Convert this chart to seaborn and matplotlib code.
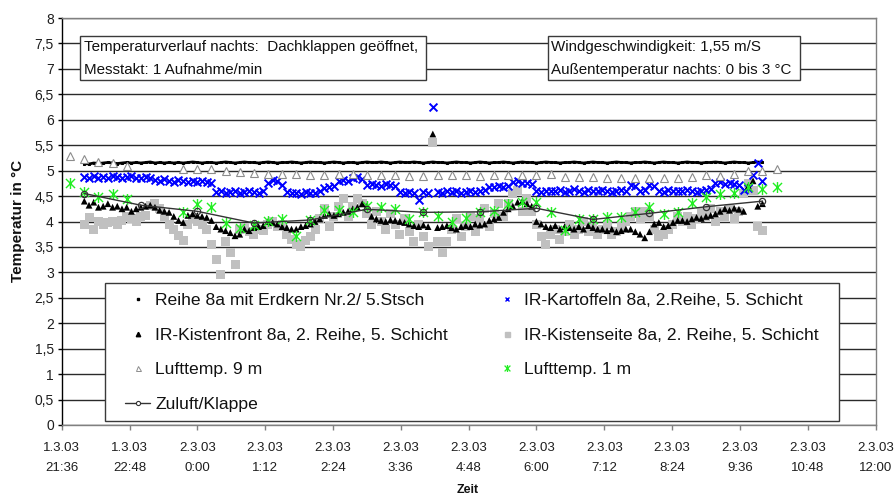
import numpy as np
import pandas as pd
import matplotlib
matplotlib.use("Agg")
import matplotlib.pyplot as plt
import seaborn as sns
from matplotlib.path import Path
from matplotlib.lines import Line2D
from matplotlib.patches import Rectangle

sns.set_theme(style="white")
plt.rcParams["font.family"] = ["Liberation Sans", "DejaVu Sans"]

# ---------------------------------------------------------------------------
# Logger series, 5-min steps from 1.3.03 22:00 to 2.3.03 10:00
dense_start_h = 22.0
dense_step_min = 5

reihe_8a = [
    5.14, 5.13, 5.15, 5.14, 5.15, 5.16, 5.15, 5.14, 5.15, 5.16,
    5.15, 5.16, 5.15, 5.16, 5.17, 5.15, 5.16, 5.15, 5.16, 5.15,
    5.16, 5.15, 5.16, 5.17, 5.16, 5.15, 5.16, 5.16, 5.15, 5.16,
    5.17, 5.16, 5.15, 5.16, 5.17, 5.16, 5.16, 5.15, 5.16, 5.17,
    5.16, 5.15, 5.16, 5.16, 5.17, 5.16, 5.15, 5.16, 5.17, 5.16,
    5.16, 5.15, 5.16, 5.17, 5.16, 5.15, 5.16, 5.16, 5.15, 5.16,
    5.17, 5.16, 5.16, 5.17, 5.16, 5.15, 5.16, 5.17, 5.16, 5.16,
    5.17, 5.16, 5.15, 5.16, 5.17, 5.16, 5.16, 5.15, 5.16, 5.17,
    5.16, 5.16, 5.15, 5.16, 5.17, 5.16, 5.15, 5.16, 5.16, 5.17,
    5.16, 5.15, 5.16, 5.17, 5.16, 5.16, 5.15, 5.16, 5.17, 5.16,
    5.16, 5.15, 5.16, 5.16, 5.17, 5.16, 5.15, 5.16, 5.17, 5.16,
    5.16, 5.15, 5.16, 5.17, 5.16, 5.16, 5.15, 5.16, 5.16, 5.17,
    5.16, 5.15, 5.16, 5.17, 5.16, 5.16, 5.15, 5.16, 5.17, 5.16,
    5.16, 5.15, 5.16, 5.16, 5.17, 5.16, 5.15, 5.16, 5.17, 5.16,
    5.16, 5.15, 5.16, 5.17, 5.16,
]

ir_kartoffeln = [
    4.88, 4.85, 4.90, 4.86, 4.88, 4.85, 4.90, 4.87, 4.85, 4.88,
    4.90, 4.86, 4.85, 4.88, 4.86, 4.82, 4.80, 4.83, 4.80, 4.78,
    4.82, 4.80, 4.78, 4.80, 4.77, 4.80, 4.78, 4.76, 4.58, 4.60,
    4.57, 4.58, 4.60, 4.57, 4.58, 4.60, 4.58, 4.57, 4.60, 4.75,
    4.82, 4.80, 4.72, 4.58, 4.56, 4.57, 4.55, 4.58, 4.56, 4.57,
    4.60, 4.66, 4.68, 4.70, 4.80, 4.82, 4.80, 4.85, 4.88, 4.83,
    4.72, 4.74, 4.72, 4.70, 4.73, 4.72, 4.70, 4.58, 4.57, 4.58,
    4.56, 4.42, 4.58, 4.57, 6.25, 4.58, 4.57, 4.59, 4.58, 4.60,
    4.57, 4.58, 4.59, 4.58, 4.60, 4.62, 4.68, 4.67, 4.70, 4.68,
    4.70, 4.78, 4.80, 4.76, 4.75, 4.74, 4.60, 4.58, 4.60, 4.59,
    4.60, 4.62, 4.58, 4.60, 4.63, 4.60, 4.58, 4.62, 4.60, 4.59,
    4.62, 4.60, 4.58, 4.60, 4.62, 4.60, 4.72, 4.70, 4.60, 4.62,
    4.72, 4.70, 4.60, 4.58, 4.62, 4.60, 4.59, 4.60, 4.62, 4.60,
    4.58, 4.60, 4.62, 4.63, 4.75, 4.77, 4.74, 4.76, 4.73, 4.72,
    4.62, 4.65, 4.92, 5.15, 4.80,
]

ir_kistenfront = [
    4.40, 4.32, 4.38, 4.28, 4.30, 4.35, 4.28, 4.30, 4.25, 4.28,
    4.20, 4.25, 4.28, 4.30, 4.32, 4.28, 4.22, 4.20, 4.18, 4.10,
    4.02, 3.98, 4.12, 4.15, 4.12, 4.10, 4.08, 4.02, 3.90, 3.85,
    3.82, 3.78, 3.72, 3.75, 3.85, 3.82, 3.88, 3.90, 3.92, 4.00,
    3.98, 3.95, 3.90, 3.88, 3.85, 3.85, 3.90, 3.92, 3.95, 4.00,
    4.05, 4.12, 4.15, 4.12, 4.15, 4.18, 4.20, 4.25, 4.28, 4.35,
    4.30, 4.10, 4.05, 4.02, 4.00, 4.03, 4.02, 4.00, 3.98, 3.95,
    3.92, 3.90, 3.93, 3.90, 5.72, 3.88, 3.90, 3.92, 3.88, 3.85,
    3.90, 3.92, 3.90, 3.95, 3.93, 3.95, 4.02, 4.05, 4.08, 4.18,
    4.25, 4.30, 4.38, 4.40, 4.35, 4.30, 4.00, 3.95, 3.90, 3.88,
    3.92, 3.85, 3.90, 3.88, 3.85, 3.90, 3.85, 3.92, 3.88, 3.85,
    3.85, 3.82, 3.85, 3.80, 3.82, 3.85, 3.85, 3.80, 3.75, 3.68,
    3.80, 3.95, 3.98, 3.90, 3.92, 3.98, 4.02, 4.02, 4.00, 4.05,
    4.08, 4.06, 4.10, 4.12, 4.15, 4.20, 4.25, 4.22, 4.26, 4.24,
    4.20, 4.70, 4.80, 4.30, 4.35,
]

ir_kistenseite = [
    3.95, 4.08, 3.85, 4.00, 3.95, 3.98, 4.00, 3.95, 4.02, 4.10,
    4.05, 4.00, 4.10, 4.12, 4.32, 4.35, 4.25, 4.10, 3.95, 3.85,
    3.72, 3.62, 3.95, 4.05, 4.00, 3.95, 3.85, 3.55, 3.25, 2.95,
    3.60, 3.40, 3.15, 3.85, 3.88, 3.80, 3.75, 3.85, 3.82, 3.95,
    4.00, 3.90, 3.95, 3.75, 3.65, 3.55, 3.50, 3.62, 3.70, 3.85,
    4.05, 4.25, 3.90, 4.10, 4.30, 4.45, 4.10, 4.30, 4.45, 4.35,
    4.15, 3.95, 4.20, 4.00, 3.85, 4.15, 3.95, 3.75, 4.05, 3.80,
    3.60, 3.95, 3.70, 3.50, 5.55, 3.60, 3.40, 3.60, 3.85, 4.05,
    3.70, 3.90, 4.10, 3.80, 4.05, 4.25, 3.90, 4.15, 4.35, 4.10,
    4.35, 4.55, 4.60, 4.20, 4.45, 4.20, 3.95, 3.70, 3.55, 3.75,
    3.85, 3.65, 3.80, 3.95, 3.75, 3.85, 4.00, 3.80, 3.90, 3.75,
    3.85, 3.95, 3.75, 3.80, 3.90, 4.00, 4.10, 4.20, 4.05, 4.20,
    4.10, 3.85, 3.70, 3.75, 3.85, 3.95, 4.10, 4.00, 4.10, 3.95,
    4.05, 4.20, 4.10, 4.25, 4.00, 4.20, 4.10, 4.25, 4.05, 4.20,
    4.55, 4.75, 4.60, 3.90, 3.82,
]

# Air temperature, 15-min steps from 1.3.03 21:45 to 2.3.03 10:15
air_start_h = 21.75
air_step_min = 15

lufttemp_9m = [
    5.28, 5.22, 5.17, 5.15, 5.09, np.nan, np.nan, np.nan, 5.03, 5.03,
    5.03, 5.00, 4.97, 4.95, 4.93, 4.93, 4.93, 4.91, 4.91, 4.93,
    4.93, 4.92, 4.92, 4.91, 4.90, 4.90, 4.91, 4.91, 4.91, 4.90,
    4.91, 4.92, 4.91, 4.92, 4.93, 4.88, 4.88, 4.88, 4.85, 4.85,
    4.85, 4.85, 4.85, 4.86, 4.88, 4.92, 4.90, 4.93, 5.00, 5.00,
    5.03,
]

lufttemp_1m = [
    4.75, 4.58, 4.49, 4.55, 4.44, np.nan, np.nan, np.nan, 4.19, 4.34,
    4.29, 3.97, 3.88, 3.93, 4.01, 4.05, 3.72, 4.02, 4.22, 4.22,
    4.19, 4.31, 4.29, 4.25, 4.05, 4.19, 4.11, 4.00, 4.07, 4.19,
    4.21, 4.35, 4.39, 4.38, 4.18, 3.84, 4.05, 4.05, 4.08, 4.09,
    4.19, 4.29, 4.14, 4.18, 4.37, 4.49, 4.55, 4.57, 4.68, 4.64,
    4.67,
]

# Supply air at the roof flap, hourly from 22:00 to 10:00
zuluft_start_h = 22.0
zuluft_klappe = [4.55, 4.32, 4.20, 3.97, 4.03, 4.24, 4.18, 4.19, 4.26, 4.04,
                 4.16, 4.29, 4.40]

series_labels = [
    "Reihe 8a mit Erdkern Nr.2/ 5.Stsch",
    "IR-Kartoffeln 8a, 2.Reihe, 5. Schicht",
    "IR-Kistenfront 8a, 2. Reihe, 5. Schicht",
    "IR-Kistenseite 8a, 2. Reihe, 5. Schicht",
    "Lufttemp. 9 m",
    "Lufttemp. 1 m",
    "Zuluft/Klappe",
]

x_tick_labels = [
    "1.3.03\n21:36", "1.3.03\n22:48", "2.3.03\n0:00", "2.3.03\n1:12",
    "2.3.03\n2:24", "2.3.03\n3:36", "2.3.03\n4:48", "2.3.03\n6:00",
    "2.3.03\n7:12", "2.3.03\n8:24", "2.3.03\n9:36", "2.3.03\n10:48",
    "2.3.03\n12:00",
]
y_tick_labels = ["0", "0,5", "1", "1,5", "2", "2,5", "3", "3,5", "4",
                 "4,5", "5", "5,5", "6", "6,5", "7", "7,5", "8"]

note_left = ["Temperaturverlauf nachts:  Dachklappen geöffnet,",
             "Messtakt: 1 Aufnahme/min"]
note_right = ["Windgeschwindigkeit: 1,55 m/S",
              "Außentemperatur nachts: 0 bis 3 °C"]

# ---------------------------------------------------------------------------
# time axis in hours counted from 1.3.03 0:00
dense = pd.DataFrame({
    "t": dense_start_h + np.arange(len(reihe_8a)) * dense_step_min / 60.0,
    "reihe": reihe_8a,
    "kart": ir_kartoffeln,
    "front": ir_kistenfront,
    "seite": ir_kistenseite,
})
air = pd.DataFrame({
    "t": air_start_h + np.arange(len(lufttemp_9m)) * air_step_min / 60.0,
    "l9": lufttemp_9m,
    "l1": lufttemp_1m,
})
zu = pd.DataFrame({
    "t": zuluft_start_h + np.arange(len(zuluft_klappe)),
    "z": zuluft_klappe,
})

W, H = 896, 501
fig = plt.figure(figsize=(W / 100, H / 100), dpi=100)
fig.patch.set_facecolor("white")


def fx(px):
    return px / W


def fy(py):
    return 1 - py / H


ax = fig.add_axes([fx(61.7), fy(425), fx(875.5) - fx(61.7), fy(18) - fy(425)])
ax.set_facecolor("white")

# asterisk marker (x with a vertical stroke)
star_path = Path([(-1, -1), (1, 1), (-1, 1), (1, -1), (0, -1.2), (0, 1.2)],
                 [Path.MOVETO, Path.LINETO] * 3)

grey_sq = "#c0c0c0"
blue = "#0000ff"
green = "#22ee22"

sns.scatterplot(data=dense, x="t", y="seite", ax=ax, marker="s", s=42,
                color=grey_sq, edgecolor="none", linewidth=0, legend=False,
                zorder=2.0)
sns.lineplot(data=dense, x="t", y="reihe", ax=ax, color="black", lw=2.0,
             marker="s", ms=1.8, mec="black", errorbar=None, zorder=2.1)
sns.scatterplot(data=dense, x="t", y="kart", ax=ax, marker="x", s=32,
                color=blue, linewidth=1.4, legend=False, zorder=2.2)
sns.scatterplot(data=dense, x="t", y="front", ax=ax, marker="^", s=24,
                color="black", edgecolor="none", linewidth=0, legend=False,
                zorder=2.3)
sns.lineplot(data=air, x="t", y="l9", ax=ax, linestyle="none", marker="^",
             ms=5.5, mfc="white", mec="#8c8c8c", mew=0.8, errorbar=None,
             zorder=2.4)
sns.scatterplot(data=air, x="t", y="l1", ax=ax, marker=star_path, s=62,
                color=green, edgecolor=green, linewidth=1.0, legend=False,
                zorder=2.5)
sns.lineplot(data=zu, x="t", y="z", ax=ax, color="#333333", lw=1.0,
             marker="o", ms=4.5, mfc="none", mec="#333333", mew=0.9,
             errorbar=None, zorder=2.6)

# axes, ticks and grid
ax.set_xlim(21.6, 36.0)
ax.set_ylim(0, 8)
ax.set_xticks(21.6 + 1.2 * np.arange(len(x_tick_labels)))
ax.set_xticklabels(x_tick_labels, linespacing=1.95)
ax.set_yticks(np.arange(len(y_tick_labels)) * 0.5)
ax.set_yticklabels(y_tick_labels)
ax.set_xlabel("")
ax.set_ylabel("")
ax.yaxis.grid(True, color="#2a2a2a", lw=1.0)
ax.xaxis.grid(False)
ax.set_axisbelow(True)
ax.tick_params(axis="y", which="major", direction="out", length=3.2, width=1,
               color="black", pad=2.5, labelsize=10, labelcolor="#1e1e1e",
               left=True)
ax.tick_params(axis="x", which="major", direction="out", length=3.5, width=1,
               color="#808080", pad=8.5, labelsize=9.5, labelcolor="#1e1e1e",
               bottom=True)
for side in ["top", "right", "bottom"]:
    ax.spines[side].set_color("#808080")
    ax.spines[side].set_linewidth(1)
ax.spines["left"].set_color("black")
ax.spines["left"].set_linewidth(1)

fig.text(fx(18), fy(221), "Temperatur in °C", rotation=90, ha="center",
         va="center", fontsize=11, fontweight="bold", color="#111111")
fig.text(fx(468), fy(490), "Zeit", ha="center", va="center", fontsize=9,
         fontweight="bold", color="#111111")

# annotation boxes
for (x0, x1), lines in [((80, 426), note_left), ((547.5, 799.5), note_right)]:
    fig.add_artist(Rectangle((fx(x0), fy(80)), fx(x1) - fx(x0), fy(36) - fy(80),
                             transform=fig.transFigure, fc="white",
                             ec="#3a3a3a", lw=1.0, zorder=5))
    for row, txt in zip([47.5, 70], lines):
        fig.text(fx(x0 + 3.5), fy(row), txt, ha="left", va="center",
                 fontsize=10.9, color="#111111", zorder=6)

# legend frame and entries
fig.add_artist(Rectangle((fx(105), fy(421)), fx(839) - fx(105), fy(282.7) - fy(421),
                         transform=fig.transFigure, fc="white", ec="#3a3a3a",
                         lw=1.0, zorder=5))

h_reihe = Line2D([], [], linestyle="none", marker="s", ms=1.6, color="black")
h_kart = Line2D([], [], linestyle="none", marker="x", ms=3.2, mec=blue,
                mew=1.0)
h_front = Line2D([], [], linestyle="none", marker="^", ms=3.2, color="black")
h_seite = Line2D([], [], linestyle="none", marker="s", ms=3.6, color=grey_sq)
h_l9 = Line2D([], [], linestyle="none", marker="^", ms=3.6, mfc="white",
              mec="#8c8c8c", mew=0.7)
h_l1 = Line2D([], [], linestyle="none", marker=star_path, ms=5, mfc=green,
              mec=green, mew=0.9)
h_zu = Line2D([], [], color="#333333", lw=1.0, marker="o", ms=3, mfc="white",
              mec="#333333", mew=0.8)

handles = [h_reihe, h_front, h_l9, h_zu, h_kart, h_seite, h_l1]
labels = [series_labels[i] for i in (0, 2, 4, 6, 1, 3, 5)]

leg_fs = 12.6
fs_px = leg_fs * 100 / 72
params = dict(colspacing=3.0, labelspacing=1.0, top=292.0)


def make_legend(p):
    lg = fig.legend(handles, labels, loc="upper left",
                    bbox_to_anchor=(fx(125), fy(p["top"])),
                    bbox_transform=fig.transFigure, ncol=2, frameon=False,
                    fontsize=leg_fs, borderpad=0, borderaxespad=0,
                    handlelength=25 / fs_px, handletextpad=5 / fs_px,
                    labelspacing=p["labelspacing"],
                    columnspacing=p["colspacing"])
    lg.set_zorder(7)
    for t in lg.get_texts():
        t.set_color("#111111")
    return lg


leg = make_legend(params)
for _ in range(2):
    fig.canvas.draw()
    r = fig.canvas.get_renderer()
    tx = leg.get_texts()
    b0 = tx[0].get_window_extent(r)
    b3 = tx[3].get_window_extent(r)
    b4 = tx[4].get_window_extent(r)
    pitch = (b0.y0 - b3.y0) / 3.0
    params["labelspacing"] += (34.5 - pitch) / fs_px
    params["colspacing"] += (524 - b4.x0) / fs_px
    row1_center = H - (b0.y0 + b0.y1) / 2.0
    params["top"] += 300.7 - row1_center
    leg.remove()
    leg = make_legend(params)

fig.savefig("out.png", dpi=100, facecolor="white")
